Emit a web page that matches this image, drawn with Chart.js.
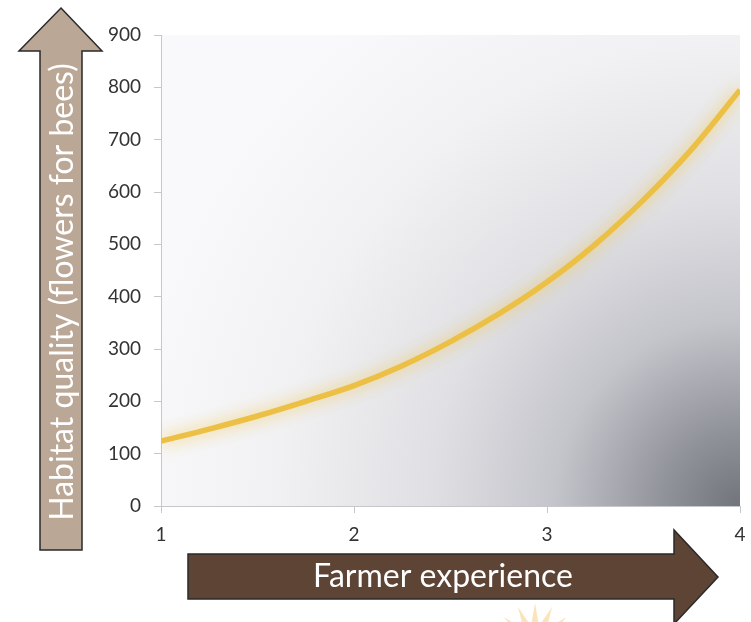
<!DOCTYPE html>
<html>
<head>
<meta charset="utf-8">
<script src="https://cdn.jsdelivr.net/npm/chart.js@4/dist/chart.umd.min.js"></script>
<style>
  html, body { margin: 0; padding: 0; background: #ffffff; }
  #wrap { position: relative; width: 751px; height: 622px; }
</style>
</head>
<body>
<div id="wrap"><canvas id="c" width="751" height="622"></canvas></div>
<script>
// ---- data ----
const experience = [1, 1.25, 1.5, 1.75, 2, 2.25, 2.5, 2.75, 3, 3.25, 3.5, 3.75, 4];
const habitatQuality = [124, 147, 172, 200, 230, 268, 314, 367, 428, 500, 585, 682, 795];
const xTickValues = [1, 2, 3, 4];
const yTickValues = [0, 100, 200, 300, 400, 500, 600, 700, 800, 900];
const xAxisTitle = 'Farmer experience';
const yAxisTitle = 'Habitat quality (flowers for bees)';

const FONT = 'Lato, "Open Sans", "DejaVu Sans", sans-serif';

const backgroundPlugin = {
  id: 'bg',
  beforeDraw(chart) {
    const ctx = chart.ctx;
    const a = chart.chartArea;
    ctx.save();
    ctx.fillStyle = '#ffffff';
    ctx.fillRect(0, 0, chart.width, chart.height);
    const g = ctx.createRadialGradient(a.right, a.bottom, 0, a.right, a.bottom, 620);
    g.addColorStop(0, '#72747c');
    g.addColorStop(0.12, '#909299');
    g.addColorStop(0.3, '#c4c5cb');
    g.addColorStop(0.5, '#e0e0e4');
    g.addColorStop(0.75, '#f1f1f3');
    g.addColorStop(1, '#f9f9fb');
    ctx.fillStyle = g;
    ctx.fillRect(a.left, a.top, a.right - a.left, a.bottom - a.top);
    ctx.restore();
  }
};

const arrowsPlugin = {
  id: 'arrows',
  afterDraw(chart) {
    const ctx = chart.ctx;
    ctx.save();
    ctx.lineJoin = 'miter';
    ctx.lineWidth = 1.5;
    ctx.strokeStyle = '#2a2a2a';
    // vertical arrow
    ctx.beginPath();
    ctx.moveTo(61, 8);
    ctx.lineTo(102, 51);
    ctx.lineTo(82, 51);
    ctx.lineTo(82, 550);
    ctx.lineTo(40, 550);
    ctx.lineTo(40, 51);
    ctx.lineTo(19, 51);
    ctx.closePath();
    ctx.fillStyle = '#bba795';
    ctx.fill();
    ctx.stroke();
    // horizontal arrow
    ctx.beginPath();
    ctx.moveTo(188, 554);
    ctx.lineTo(674, 554);
    ctx.lineTo(674, 530);
    ctx.lineTo(718, 577);
    ctx.lineTo(674, 624);
    ctx.lineTo(674, 599);
    ctx.lineTo(188, 599);
    ctx.closePath();
    ctx.fillStyle = '#5d4435';
    ctx.fill();
    ctx.stroke();
    // faint sun decoration at the bottom
    ctx.fillStyle = 'rgba(246, 212, 140, 0.6)';
    const cx = 535, cy = 645;
    for (let i = -2; i <= 2; i++) {
      const ang = -Math.PI / 2 + i * 0.42;
      ctx.beginPath();
      ctx.moveTo(cx + Math.cos(ang) * 42, cy + Math.sin(ang) * 42);
      ctx.lineTo(cx + Math.cos(ang + 0.16) * 22, cy + Math.sin(ang + 0.16) * 22);
      ctx.lineTo(cx + Math.cos(ang - 0.16) * 22, cy + Math.sin(ang - 0.16) * 22);
      ctx.closePath();
      ctx.fill();
    }
    // titles
    ctx.fillStyle = '#ffffff';
    ctx.textAlign = 'center';
    ctx.textBaseline = 'middle';
    ctx.font = '32px ' + FONT;
    ctx.fillText(xAxisTitle, 443, 577);
    ctx.translate(63, 292);
    ctx.rotate(-Math.PI / 2);
    ctx.fillText(yAxisTitle, 0, 0);
    ctx.restore();
  }
};

const glowPlugin = {
  id: 'glow',
  beforeDatasetDraw(chart) {
    const ctx = chart.ctx;
    ctx.save();
    ctx.shadowColor = 'rgba(242, 196, 70, 0.9)';
    ctx.shadowBlur = 16;
  },
  afterDatasetDraw(chart) {
    chart.ctx.restore();
  }
};

new Chart(document.getElementById('c'), {
  type: 'line',
  data: {
    datasets: [{
      data: experience.map((x, i) => ({ x: x, y: habitatQuality[i] })),
      borderColor: '#ecbf45',
      borderWidth: 5.5,
      pointRadius: 0,
      cubicInterpolationMode: 'monotone',
      fill: false
    }]
  },
  options: {
    responsive: false,
    animation: false,
    layout: { padding: { top: 35, right: 11, left: 0, bottom: 0 } },
    plugins: { legend: { display: false }, tooltip: { enabled: false } },
    scales: {
      x: {
        type: 'linear',
        min: 1, max: 4,
        afterFit(s) { s.height = 116; s.paddingRight = 0; s.paddingLeft = 0; },
        afterBuildTicks(s) { s.ticks = xTickValues.map(v => ({ value: v })); },
        ticks: { color: '#333333', font: { family: FONT, size: 19 }, padding: 10, callback: v => String(v) },
        grid: { display: true, drawOnChartArea: false, drawTicks: true, tickLength: 7, color: '#c6c7cc' },
        border: { display: true, color: '#c6c7cc', width: 1 }
      },
      y: {
        min: 0, max: 900,
        afterFit(s) { s.width = 161; },
        afterBuildTicks(s) { s.ticks = yTickValues.map(v => ({ value: v })); },
        ticks: { color: '#333333', font: { family: FONT, size: 19 }, padding: 13, callback: v => String(v) },
        grid: { display: true, drawOnChartArea: false, drawTicks: true, tickLength: 7, color: '#c6c7cc' },
        border: { display: true, color: '#c6c7cc', width: 1 }
      }
    }
  },
  plugins: [backgroundPlugin, glowPlugin, arrowsPlugin]
});
</script>
</body>
</html>
